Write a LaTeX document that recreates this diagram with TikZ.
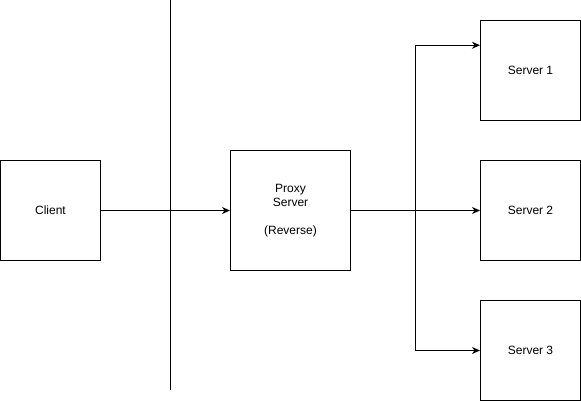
\documentclass[tikz,border=0pt]{standalone}
\usepackage{fontspec}
\setmainfont{Liberation Sans}
\usetikzlibrary{arrows.meta,calc}
\begin{document}
\begin{tikzpicture}[x=1pt,y=-1pt,
  box/.style={draw=black,line width=1pt,fill=white,inner sep=0pt,align=center,
    font=\fontsize{12}{14}\selectfont},
  conn/.style={draw=black,line width=1pt,-{Stealth[length=8pt,width=7pt,inset=2.5pt]}},
  wall/.style={draw=black,line width=1pt}]
\useasboundingbox (0,0) rectangle (581,401);
\coordinate (walltop) at (170.5,0);
\coordinate (wallbot) at (170.5,390);
\draw[wall] (walltop) -- (wallbot);
\node[box,minimum width=100pt,minimum height=100pt] (client) at (50.5,210.5) {Client};
\node[box,minimum width=120pt,minimum height=120pt] (proxy) at (290.5,210.5) {Proxy\\ Server\\[14pt](Reverse)};
\node[box,minimum width=100pt,minimum height=100pt] (s1) at (530.5,70.5) {Server 1};
\node[box,minimum width=100pt,minimum height=100pt] (s2) at (530.5,210.5) {Server 2};
\node[box,minimum width=100pt,minimum height=100pt] (s3) at (530.5,350.5) {Server 3};
\coordinate (split) at (415.5,210.5);
\draw[conn] (client.east) -- (proxy.west);
\draw[conn] (proxy.east) -- (s2.west);
\draw[conn] (split) |- ($(s1.north west)!0.25!(s1.south west)$);
\draw[conn] (split) |- (s3.west);
\end{tikzpicture}
\end{document}
